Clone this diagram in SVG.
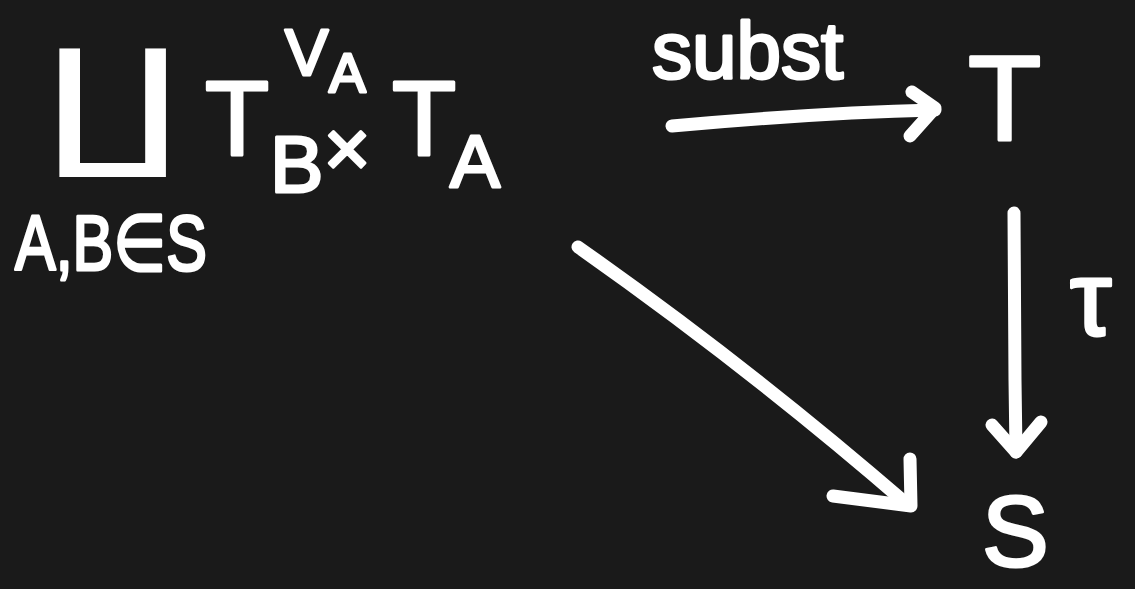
<svg xmlns="http://www.w3.org/2000/svg" width="1135" height="589" viewBox="0 0 1135 589">
<style>
.t{fill:#fff;font-family:"Liberation Sans","DejaVu Sans",sans-serif;stroke:#fff;stroke-width:3;stroke-linejoin:round}
.c{fill:none;stroke:#fff;stroke-width:13;stroke-linecap:round;stroke-linejoin:round}
</style>
<rect width="1135" height="589" fill="#1a1a1a"/>
<g id="source">
<text fill="#fff" font-family="DejaVu Sans" font-size="141" transform="translate(46 150) scale(1.25 1)" x="0" y="0">∐</text>
<text class="t" x="15" y="270" font-size="78" textLength="192" lengthAdjust="spacingAndGlyphs">A,B∈S</text>
<text class="t" x="205" y="155" font-size="105">T</text>
<text class="t" x="285" y="75" font-size="65">V</text>
<text class="t" x="329" y="92" font-size="55">A</text>
<text class="t" x="270" y="192" font-size="80">B</text>
<text class="t" x="347" y="176" font-size="80" text-anchor="middle">×</text>
<text class="t" x="392" y="155" font-size="105">T</text>
<text class="t" x="450" y="187" font-size="75">A</text>
</g>
<g id="target-T">
<text class="t" x="968" y="140" font-size="120">T</text>
</g>
<g id="target-S">
<text class="t" x="982" y="566" font-size="100">S</text>
</g>
<g id="connectors">
<path class="c" d="M672 126 C760 118 850 112 935 110"/>
<path class="c" d="M912 92 L935 108 L910 136"/>
<text class="t" x="652" y="78" font-size="80">subst</text>
<path class="c" d="M1014 213 L1015 380 L1016 452"/>
<path class="c" d="M992 425 L1016 452 L1041 422"/>
<text class="t" x="1070" y="335" font-size="105">τ</text>
<path class="c" d="M578 247 Q750 368 908 505"/>
<path class="c" d="M910 459 L911 506 L833 496"/>
</g>
</svg>
